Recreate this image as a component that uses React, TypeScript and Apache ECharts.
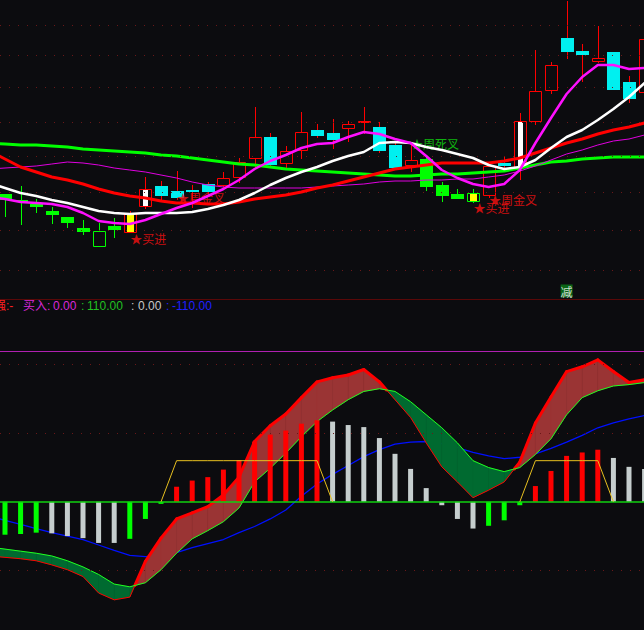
import React, { useEffect, useRef } from 'react';
import * as echarts from 'echarts';

// ---------- data (price units are arbitrary chart units) ----------
// candles and histogram start at bar index 0
const candleOpen = [104, 98, 94, 87, 81, 70, 67, 72, 65, 91, 112, 107, 108, 114, 112, 120, 139, 161, 134, 147, 168, 165, 169, 175, 171, 153, 132, 139, 113, 104, 105, 102, 135, 130, 176, 207, 260, 247, 236, 246, 216, 205];
const candleClose = [98, 96, 91, 83, 75, 66, 51, 68, 85, 109, 102, 100, 106, 106, 120, 136, 161, 133, 147, 166, 162, 158, 174, 177, 147, 130, 138, 111, 102, 99, 96, 132, 132, 177, 207, 233, 246, 243, 240, 208, 199, 259];
const candleLow = [81, 73, 85, 74, 70, 63, 51, 60, 65, 89, 98, 98, 90, 104, 108, 115, 129, 131, 130, 139, 160, 149, 156, 164, 145, 128, 126, 107, 96, 99, 95, 100, 128, 118, 173, 204, 239, 216, 235, 208, 195, 203];
const candleHigh = [104, 112, 99, 91, 81, 78, 75, 80, 87, 121, 117, 127, 113, 116, 126, 140, 191, 165, 152, 186, 174, 179, 177, 191, 176, 155, 153, 141, 116, 109, 109, 135, 141, 185, 248, 236, 297, 254, 272, 246, 222, 263];
// u = red hollow, c = cyan, g = green, gh = green hollow, yu = yellow in red, wu = white in red, yg = yellow in green
const candleKind = ['g', 'g', 'g', 'g', 'g', 'g', 'gh', 'g', 'yu', 'wu', 'c', 'c', 'c', 'c', 'u', 'u', 'u', 'c', 'u', 'u', 'c', 'c', 'u', 'u', 'c', 'c', 'u', 'g', 'g', 'g', 'yg', 'u', 'c', 'wu', 'u', 'u', 'c', 'c', 'u', 'c', 'c', 'u'];

// indicator lines start one bar earlier (index -1, just off the left edge)
const LINE_START = -1;
const maWhite = [115, 110, 105, 102, 98, 95, 91, 87, 85, 84, 85, 85, 85, 86, 89, 93, 98, 105, 113, 120, 126, 131, 137, 142, 146, 155, 156, 155, 151, 148, 144, 140, 133, 129, 131, 138, 150, 161, 168, 178, 189, 201, 215];
const maMagenta = [101, 99, 96, 95, 94, 91, 85, 77, 75, 74, 78, 84, 90, 95, 102, 109, 118, 129, 137, 143, 150, 154, 155, 161, 166, 164, 159, 155, 142, 128, 120, 114, 111, 114, 128, 155, 180, 204, 221, 233, 233, 229, 230];
const maRed = [147, 139, 131, 126, 121, 118, 114, 109, 105, 102, 100, 97, 95, 95, 94, 94, 96, 99, 101, 103, 106, 110, 113, 117, 121, 125, 129, 131, 133, 135, 135, 135, 135, 137, 140, 145, 150, 155, 159, 164, 168, 171, 175];
const maGreen = [155, 154, 153, 153, 152, 151, 149, 148, 147, 146, 145, 143, 142, 140, 138, 136, 134, 133, 131, 129, 128, 127, 126, 125, 124, 123, 122, 122, 123, 124, 124, 125, 126, 127, 130, 133, 136, 137, 139, 140, 141, 141, 141];
const maThinMagenta = [129, 130, 131, 132, 134, 136, 135, 133, 130, 128, 126, 123, 120, 116, 113, 111, 110, 110, 110, 110, 110, 111, 112, 113, 114, 116, 117, 117, 118, 118, 119, 119, 121, 123, 127, 132, 138, 144, 148, 153, 157, 159, 163];
const priceGridLevels = [273, 243, 211, 176, 142, 106, 68, 28];

const signalLabels = [
  { text: '★买进', index: 8, level: 60, color: '#ff1010' },
  { text: '★周金叉', index: 11, level: 101, color: '#ff1010' },
  { text: '★周死叉', index: 26, level: 155, color: '#10e010' },
  { text: '★买进', index: 30, level: 91, color: '#ff1010' },
  { text: '★周金叉', index: 31, level: 99, color: '#ff1010' },
];
const reduceMark = { text: '减', index: 36, level: 7 };

// lower panel
const histValues = [-48, -47, -45, -46, -50, -53, -60, -60, -54, -25, -3, 22, 31, 36, 47, 61, 88, 98, 104, 114, 119, 117, 112, 109, 93, 70, 48, 20, -5, -25, -39, -35, -27, -5, 23, 45, 67, 72, 76, 64, 51, 48];
const histKind = ['g', 'g', 'g', 'w', 'w', 'w', 'w', 'w', 'g', 'g', 'g', 'r', 'r', 'r', 'r', 'r', 'r', 'r', 'r', 'r', 'r', 'w', 'w', 'w', 'w', 'w', 'w', 'w', 'w', 'w', 'w', 'g', 'g', 'g', 'r', 'r', 'r', 'r', 'r', 'w', 'w', 'w'];
const ribbonRed = [-79, -81, -83, -86, -92, -99, -109, -133, -143, -139, -87, -53, -25, -16, -7, 10, 36, 88, 111, 128, 152, 175, 181, 185, 193, 175, 149, 123, 86, 51, 29, 6, 17, 29, 58, 115, 153, 190, 197, 207, 190, 174, 178];
const ribbonGreen = [-66, -69, -72, -75, -79, -86, -95, -106, -120, -124, -118, -99, -75, -54, -42, -29, -9, 29, 49, 71, 95, 117, 134, 149, 161, 165, 161, 146, 127, 108, 86, 60, 50, 44, 50, 69, 92, 127, 152, 162, 169, 171, 174];
const blueLine = [-21, -27, -33, -39, -45, -50, -55, -63, -71, -78, -80, -79, -74, -67, -61, -55, -45, -36, -25, -12, 8, 26, 40, 53, 66, 76, 84, 87, 88, 85, 79, 72, 67, 63, 65, 70, 78, 87, 97, 108, 115, 121, 126];
const yellowLine = [null, null, null, null, null, null, null, null, null, null, 0, 60, 60, 60, 60, 60, 60, 60, 60, 60, 60, 0, null, null, null, null, null, null, null, null, null, null, null, 0, 60, 60, 60, 60, 60, 0, null, null];
const oscGridLevels = [200, 100, -100];

const statusSegments = [
  { x: -6, text: '强:-', color: '#ff2020' },
  { x: 23, text: '买入:', color: '#d828d8' },
  { x: 53, text: '0.00', color: '#d828d8' },
  { x: 81, text: ':', color: '#22c022' },
  { x: 87, text: '110.00', color: '#22c022' },
  { x: 131, text: ':', color: '#c8c8c8' },
  { x: 138, text: '0.00', color: '#c8c8c8' },
  { x: 166, text: ':', color: '#2020ff' },
  { x: 172, text: '-110.00', color: '#2020ff' },
];

// ---------- styling ----------
const BG = '#0c0c0f';
const W = 644;
const H = 630;
const STEP = 15.6;
const FIRST_X = 5;
const CJK = "'Noto Sans CJK SC', sans-serif";
const LATIN = "'Liberation Sans', 'Noto Sans CJK SC', sans-serif";
const RED = '#ff0000';
const CYAN = '#00f0f0';
const GREEN = '#00ff00';

function candleRender(params: any, api: any) {
  const i = api.value(0);
  const o = api.value(1);
  const c = api.value(2);
  const l = api.value(3);
  const h = api.value(4);
  const kind = candleKind[params.dataIndex];
  const pTop = api.coord([i, Math.max(o, c)]);
  const pBot = api.coord([i, Math.min(o, c)]);
  const pH = api.coord([i, h]);
  const pL = api.coord([i, l]);
  const cx = Math.round(pTop[0]);
  const yT = Math.round(pTop[1]);
  const yB = Math.max(yT + 1, Math.round(pBot[1]));
  const yH = Math.round(pH[1]);
  const yL = Math.round(pL[1]);
  const greenish = kind === 'g' || kind === 'gh' || kind === 'yg';
  const edge = greenish ? GREEN : RED;
  const hollow = kind !== 'g' && kind !== 'c';
  const children: any[] = [];
  const wick = (a: number, b: number) => {
    if (b > a) children.push({ type: 'line', shape: { x1: cx + 0.5, y1: a, x2: cx + 0.5, y2: b }, style: { stroke: edge, lineWidth: 1 } });
  };
  if (hollow) {
    wick(yH, yT);
    wick(yB, yL);
    children.push({ type: 'rect', shape: { x: cx - 5.5, y: yT + 0.5, width: 12, height: Math.max(1, yB - yT - 1) }, style: { fill: BG, stroke: edge, lineWidth: 1 } });
    if (kind === 'yu' || kind === 'yg') {
      children.push({ type: 'rect', shape: { x: cx - 3, y: yT + 1, width: 7, height: Math.max(1, yB - yT - 2) }, style: { fill: '#ffff00' } });
    } else if (kind === 'wu') {
      children.push({ type: 'rect', shape: { x: cx - 2, y: yT + 1, width: 5, height: Math.max(1, yB - yT - 2) }, style: { fill: '#ffffff' } });
    }
  } else {
    wick(yH, yL);
    children.push({ type: 'rect', shape: { x: cx - 6, y: yT, width: 13, height: Math.max(2, yB - yT) }, style: { fill: kind === 'c' ? CYAN : GREEN } });
  }
  return { type: 'group', children };
}

function ribbonRender(params: any, api: any) {
  const k = params.dataIndex;
  if (k >= ribbonRed.length - 1) return null;
  const i = k + LINE_START;
  const r0 = ribbonRed[k], r1 = ribbonRed[k + 1];
  const g0 = ribbonGreen[k], g1 = ribbonGreen[k + 1];
  const d0 = r0 - g0, d1 = r1 - g1;
  const children: any[] = [];
  const seg = (xa: number, ra: number, ga: number, xb: number, rb: number, gb: number, up: boolean) => {
    const fill = up ? '#9a3434' : '#006a30';
    const a1 = api.coord([xa, ra]);
    const b1 = api.coord([xb, rb]);
    const b2 = api.coord([xb, gb]);
    const a2 = api.coord([xa, ga]);
    children.push({ type: 'polygon', z2: 0, shape: { points: [a1, b1, b2, a2] }, style: { fill, stroke: fill, lineWidth: 0.6 } });
    children.push({ type: 'polyline', z2: 2, shape: { points: [a1, b1] }, style: { stroke: RED, lineWidth: up ? 3 : 1, lineCap: up ? 'round' : 'butt', fill: null } });
  };
  if (d0 * d1 < 0) {
    const t = d0 / (d0 - d1);
    const xc = i + t;
    const yc = r0 + t * (r1 - r0);
    seg(i, r0, g0, xc, yc, yc, d0 > 0);
    seg(xc, yc, yc, i + 1, r1, g1, d1 > 0);
  } else {
    seg(i, r0, g0, i + 1, r1, g1, d0 + d1 > 0);
  }
  return { type: 'group', children };
}

function lineData(data: (number | null)[], start: number) {
  return data.map((v, i) => [i + start, v]);
}

function topLine(data: number[], color: string, width: number, z: number) {
  return {
    type: 'line', xAxisIndex: 0, yAxisIndex: 0, data: lineData(data, LINE_START),
    showSymbol: false, symbol: 'none', silent: true, z,
    lineStyle: { color, width, cap: 'round', join: 'round' },
  };
}

export default function App() {
  const ref = useRef<HTMLDivElement>(null);
  useEffect(() => {
    if (!ref.current) return;
    const chart = echarts.init(ref.current, undefined, { renderer: 'svg', width: W, height: H });
    const xMin = -FIRST_X / STEP;
    const xMax = (W - FIRST_X) / STEP;
    const option: any = {
      animation: false,
      backgroundColor: BG,
      grid: [
        { left: 0, top: 0, width: W, height: 298 },
        { left: 0, top: 351, width: W, height: 279 },
      ],
      xAxis: [
        { type: 'value', gridIndex: 0, min: xMin, max: xMax, show: false },
        { type: 'value', gridIndex: 1, min: xMin, max: xMax, show: false },
      ],
      yAxis: [
        { type: 'value', gridIndex: 0, min: 0, max: 298, show: false },
        { type: 'value', gridIndex: 1, min: -187, max: 220, show: false },
      ],
      series: [
        {
          type: 'line', xAxisIndex: 0, yAxisIndex: 0, z: 1, silent: true,
          data: lineData(maGreen, LINE_START), showSymbol: false, symbol: 'none',
          lineStyle: { opacity: 0, width: 0 },
          markLine: {
            silent: true, symbol: 'none', label: { show: false }, animation: false,
            lineStyle: { color: '#6a1818', width: 1, type: [1, 8] },
            data: priceGridLevels.map((v) => ({ yAxis: v })),
          },
        },
        {
          type: 'custom', xAxisIndex: 0, yAxisIndex: 0, z: 2, silent: true,
          data: candleOpen.map((o, i) => [i, o, candleClose[i], candleLow[i], candleHigh[i]]),
          encode: { x: 0, y: [1, 2, 3, 4] },
          renderItem: candleRender,
        },
        {
          type: 'scatter', xAxisIndex: 0, yAxisIndex: 0, z: 3, silent: true,
          symbolSize: 1, itemStyle: { color: 'rgba(0,0,0,0)' },
          label: { show: true, position: 'right', distance: 0, formatter: '{b}', fontSize: 12, fontFamily: CJK },
          data: signalLabels.map((s) => ({ name: s.text, value: [s.index, s.level], label: { color: s.color } })),
        },
        topLine(maGreen, '#00ff00', 3, 4),
        topLine(maThinMagenta, '#e000e0', 1, 4),
        topLine(maRed, '#ff0000', 3, 5),
        topLine(maWhite, '#ffffff', 2.5, 6),
        topLine(maMagenta, '#ff10ff', 2.5, 7),
        {
          type: 'scatter', xAxisIndex: 0, yAxisIndex: 0, z: 8, silent: true,
          symbolSize: 1, itemStyle: { color: 'rgba(0,0,0,0)' },
          label: {
            show: true, position: 'inside', formatter: '{b}', fontSize: 12, lineHeight: 13,
            fontFamily: CJK, color: '#ffffff', backgroundColor: '#0a7a16', padding: [0, 0, 0, 0],
          },
          data: [{ name: reduceMark.text, value: [reduceMark.index, reduceMark.level] }],
        },
        // lower panel
        {
          type: 'line', xAxisIndex: 1, yAxisIndex: 1, z: 1, silent: true,
          data: lineData(blueLine, LINE_START), showSymbol: false, symbol: 'none',
          lineStyle: { color: '#0010ff', width: 1.3 },
          markLine: {
            silent: true, symbol: 'none', label: { show: false }, animation: false,
            data: [
              ...oscGridLevels.map((v) => ({ yAxis: v, lineStyle: { color: '#6a1818', width: 1, type: [1, 8] } })),
              { yAxis: 0, lineStyle: { color: '#10d010', width: 1.5, type: 'solid' } },
            ],
          },
        },
        {
          type: 'custom', xAxisIndex: 1, yAxisIndex: 1, z: 2, silent: true,
          data: ribbonRed.map((r, i) => [i + LINE_START, r, ribbonGreen[i]]),
          encode: { x: 0, y: [1, 2] },
          renderItem: ribbonRender,
        },
        {
          type: 'line', xAxisIndex: 1, yAxisIndex: 1, z: 3, silent: true,
          data: lineData(ribbonGreen, LINE_START), showSymbol: false, symbol: 'none',
          lineStyle: { color: '#20ff20', width: 1 },
        },
        {
          type: 'bar', xAxisIndex: 1, yAxisIndex: 1, z: 4, silent: true, barWidth: 5,
          data: histValues.map((v, i) => ({
            value: [i, v],
            itemStyle: { color: histKind[i] === 'r' ? '#ff0000' : histKind[i] === 'g' ? '#00ff00' : '#c6cece' },
          })),
        },
        {
          type: 'line', xAxisIndex: 1, yAxisIndex: 1, z: 5, silent: true,
          data: lineData(yellowLine, 0), showSymbol: false, symbol: 'none',
          connectNulls: false,
          lineStyle: { color: '#e8c020', width: 1 },
        },
      ],
      graphic: [
        { type: 'line', silent: true, shape: { x1: 0, y1: 299.5, x2: W, y2: 299.5 }, style: { stroke: '#5a0808', lineWidth: 1 } },
        { type: 'line', silent: true, shape: { x1: 0, y1: 351.5, x2: W, y2: 351.5 }, style: { stroke: '#b020b0', lineWidth: 1 } },
        ...statusSegments.map((s) => ({
          type: 'text', silent: true, x: s.x, y: 306,
          style: { text: s.text, fill: s.color, font: `12px ${LATIN}`, verticalAlign: 'middle', align: 'left' },
        })),
      ],
    };
    chart.setOption(option);
    return () => chart.dispose();
  }, []);
  return <div ref={ref} style={{ position: 'fixed', left: 0, top: 0, width: W, height: H, background: BG }} />;
}
